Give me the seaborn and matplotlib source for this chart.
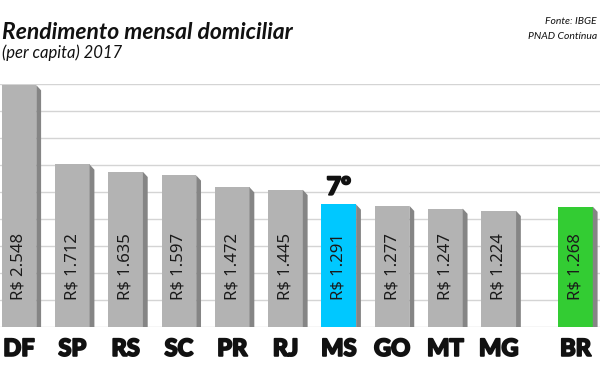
import numpy as np
import pandas as pd
import seaborn as sns
import matplotlib.pyplot as plt
import matplotlib.patheffects as pe
from matplotlib.patches import Polygon
from matplotlib.font_manager import FontProperties

# dados (PNAD Continua 2017, rendimento mensal domiciliar per capita)
estados = ['DF', 'SP', 'RS', 'SC', 'PR', 'RJ', 'MS', 'GO', 'MT', 'MG', 'BR']
valores = [2548, 1712, 1635, 1597, 1472, 1445, 1291, 1277, 1247, 1224, 1268]
rotulos = ['R$ 2.548', 'R$ 1.712', 'R$ 1.635', 'R$ 1.597', 'R$ 1.472', 'R$ 1.445',
           'R$ 1.291', 'R$ 1.277', 'R$ 1.247', 'R$ 1.224', 'R$ 1.268']
destaque = 'MS'
ranking = '7º'

cores = {e: '#b3b3b3' for e in estados}
cores['MS'] = '#00c8ff'
cores['BR'] = '#33cc33'

# BR fica um pouco afastado dos estados
pos = np.arange(len(estados), dtype=float)
pos[-1] += 0.44

df = pd.DataFrame({'pos': pos, 'estado': estados, 'valor': valores})

sns.set_style('white')
fig = plt.figure(figsize=(6, 3.72), dpi=100)
ax = fig.add_axes([0, 45 / 372, 1, 243 / 372])

sns.barplot(data=df, x='pos', y='valor', hue='estado', palette=cores,
            native_scale=True, width=0.65, legend=False, ax=ax,
            saturation=1, linewidth=0, zorder=3)

ax.set_xlim(-0.356, 10.9)
ax.set_ylim(0, 2560)
ax.set_yticks(np.linspace(0, 2560, 10))
ax.yaxis.grid(True, color='#d4d4d4', linewidth=1, zorder=0)
ax.set_axisbelow(True)
ax.tick_params(axis='y', left=False, labelleft=False)
ax.set_xticks([])
for s in ax.spines.values():
    s.set_visible(False)
ax.set_xlabel('')
ax.set_ylabel('')

# lateral escura das barras (efeito 3D)
dx = 0.09
dy = 55
for p in ax.patches[:]:
    x0 = p.get_x() + p.get_width()
    h = p.get_height()
    side = Polygon([(x0, 0), (x0, h), (x0 + dx, h - dy), (x0 + dx, 0)],
                   closed=True, facecolor='#858585', edgecolor='none', zorder=3)
    ax.add_patch(side)

for x, v, r in zip(pos, valores, rotulos):
    ax.text(x, 280, r, rotation=90, ha='center', va='bottom',
            fontsize=12, color='#1a1a1a', family='Noto Sans', zorder=4)

grosso = [pe.withStroke(linewidth=1.3, foreground='#111111')]
negrito = FontProperties(family='Lato', weight='black', size=17)
for x, e in zip(pos, estados):
    ax.text(x, -0.088, e, transform=ax.get_xaxis_transform(), ha='center',
            va='center', fontproperties=negrito, color='#111111',
            path_effects=grosso)

i = estados.index(destaque)
ax.text(pos[i], valores[i] + 60, ranking, ha='center', va='bottom',
        fontproperties=FontProperties(family='Lato', weight='black', size=18),
        color='#111111', path_effects=grosso)

fig.text(0.004, 0.895, 'Rendimento mensal domiciliar', fontsize=16.5,
         style='italic', fontweight='bold', family='Lato', color='#111111')
fig.text(0.004, 0.845, '(per capita) 2017', fontsize=12, style='italic',
         family='Lato', color='#111111')
fig.text(0.995, 0.935, 'Fonte: IBGE', fontsize=7.5, style='italic',
         family='Lato', ha='right', color='#111111')
fig.text(0.995, 0.895, 'PNAD Contínua', fontsize=7.5, style='italic',
         family='Lato', ha='right', color='#111111')

fig.savefig('out.png', dpi=100)
